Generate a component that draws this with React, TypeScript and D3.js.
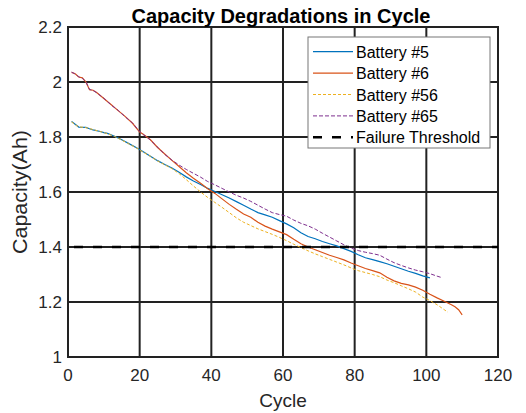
import React from "react";
import * as d3 from "d3";

const b5Cycles = [1,2,3,5,6,7,9,10,11,13,15,17,19,21,23,25,27,29,31,33,35,37,39,41,43,45,47,49,51,53,55,57,59,61,63,65,67,69,71,73,75,77,79,81,83,85,87,89,91,93,95,97,99,101];
const b5Values = [1.856,1.846,1.836,1.835,1.83,1.826,1.82,1.816,1.813,1.803,1.79,1.776,1.762,1.746,1.73,1.714,1.7,1.687,1.672,1.655,1.64,1.627,1.613,1.602,1.59,1.578,1.565,1.552,1.538,1.525,1.517,1.508,1.496,1.484,1.47,1.452,1.438,1.43,1.42,1.412,1.404,1.394,1.384,1.372,1.361,1.354,1.347,1.339,1.33,1.321,1.312,1.304,1.295,1.288];

const b6Cycles = [1,2,3,4,5,6,7,8,10,12,14,16,18,20,21,23,25,27,29,31,33,35,37,39,41,43,45,47,49,51,53,55,57,59,61,63,65,67,69,71,73,75,77,79,81,83,85,87,89,91,93,95,97,99,101,103,105,107,108,109,110];
const b6Values = [2.035,2.03,2.018,2.015,2.0,1.972,1.97,1.962,1.94,1.918,1.896,1.874,1.85,1.818,1.81,1.79,1.762,1.738,1.715,1.693,1.67,1.65,1.632,1.612,1.595,1.575,1.555,1.537,1.52,1.508,1.49,1.476,1.465,1.455,1.445,1.428,1.412,1.4,1.39,1.38,1.37,1.362,1.353,1.342,1.332,1.322,1.314,1.306,1.29,1.277,1.268,1.262,1.254,1.243,1.228,1.215,1.203,1.19,1.183,1.172,1.153];

const b56Cycles = [1,2,3,5,7,9,11,13,15,17,19,21,23,25,27,29,31,33,35,37,39,41,43,45,47,49,51,53,55,57,59,61,63,65,67,69,71,73,75,77,79,81,83,85,87,89,91,93,95,97,99,101,103,105,106];
const b56Values = [1.855,1.845,1.837,1.834,1.827,1.82,1.812,1.802,1.789,1.775,1.761,1.745,1.73,1.713,1.699,1.685,1.667,1.645,1.622,1.6,1.58,1.562,1.544,1.525,1.506,1.49,1.478,1.466,1.456,1.446,1.435,1.423,1.41,1.398,1.386,1.375,1.365,1.355,1.345,1.335,1.324,1.314,1.307,1.3,1.292,1.28,1.27,1.259,1.248,1.236,1.218,1.205,1.19,1.172,1.163];

const b65Cycles = [1,2,3,4,5,6,7,8,10,12,14,16,18,20,21,23,25,27,29,31,33,35,37,39,41,43,45,47,49,51,53,55,57,59,61,63,65,67,69,71,73,75,77,79,81,83,85,87,89,91,93,95,97,99,101,103,104];
const b65Values = [2.036,2.029,2.019,2.014,2.001,1.973,1.969,1.961,1.941,1.917,1.897,1.873,1.851,1.82,1.809,1.789,1.763,1.737,1.716,1.698,1.682,1.668,1.654,1.638,1.626,1.613,1.6,1.588,1.578,1.566,1.552,1.538,1.525,1.518,1.512,1.498,1.486,1.477,1.465,1.45,1.436,1.422,1.408,1.396,1.387,1.381,1.376,1.37,1.356,1.343,1.333,1.324,1.316,1.31,1.303,1.294,1.29];

const thresholdValue = 1.4;
const xTicks = [0, 20, 40, 60, 80, 100, 120];
const yTicks = [1, 1.2, 1.4, 1.6, 1.8, 2, 2.2];
const yTickLabels = ["1", "1.2", "1.4", "1.6", "1.8", "2", "2.2"];
const seriesNames = ["Battery #5", "Battery #6", "Battery #56", "Battery #65", "Failure Threshold"];

const FONT = "'Liberation Sans', Arial, Helvetica, sans-serif";

export default function App() {
  const W = 526, H = 413;
  const left = 68, right = 498, top = 27, bottom = 357;
  const x = d3.scaleLinear().domain([0, 120]).range([left, right]);
  const y = d3.scaleLinear().domain([1, 2.2]).range([bottom, top]);
  const line = d3.line<[number, number]>().x(d => x(d[0])).y(d => y(d[1]));
  const zip = (c: number[], v: number[]) => c.map((ci, i) => [ci, v[i]] as [number, number]);

  const series = [
    { name: seriesNames[0], data: zip(b5Cycles, b5Values), color: "#0072BD", dash: undefined as string | undefined, width: 1.2 },
    { name: seriesNames[1], data: zip(b6Cycles, b6Values), color: "#D95319", dash: undefined, width: 1.2 },
    { name: seriesNames[2], data: zip(b56Cycles, b56Values), color: "#EDB120", dash: "3,2", width: 1 },
    { name: seriesNames[3], data: zip(b65Cycles, b65Values), color: "#7E2F8E", dash: "4,2", width: 1 },
  ];

  const legX = 308, legY = 37, legW = 182, legH = 111;
  const rowY = (i: number) => 51.7 + i * 21.4;

  return (
    <svg width={W} height={H} style={{ position: "absolute", left: 0, top: 0, background: "#fff" }} fontFamily={FONT}>
      <rect x={0} y={0} width={W} height={H} fill="#fff" />
      {xTicks.map(t => (
        <line key={"gx" + t} x1={x(t)} x2={x(t)} y1={top} y2={bottom} stroke="#222" strokeWidth={2} />
      ))}
      {yTicks.map(t => (
        <line key={"gy" + t} x1={left} x2={right} y1={y(t)} y2={y(t)} stroke="#222" strokeWidth={2} />
      ))}
      <rect x={left} y={top} width={right - left} height={bottom - top} fill="none" stroke="#222" strokeWidth={2} />
      {series.map(s => (
        <path key={s.name} d={line(s.data) || ""} fill="none" stroke={s.color} strokeWidth={s.width} strokeDasharray={s.dash} />
      ))}
      <line x1={x(0)} x2={x(120)} y1={y(thresholdValue)} y2={y(thresholdValue)} stroke="#000" strokeWidth={2.6} strokeDasharray="9,10" strokeDashoffset={-6} />
      {xTicks.map(t => (
        <text key={"xl" + t} x={x(t)} y={381} textAnchor="middle" fontSize={17} fill="#262626">{t}</text>
      ))}
      {yTicks.map((t, i) => (
        <text key={"yl" + t} x={62} y={y(t) + 6} textAnchor="end" fontSize={17} fill="#262626">{yTickLabels[i]}</text>
      ))}
      <text x={(left + right) / 2} y={407} textAnchor="middle" fontSize={19} fill="#262626">Cycle</text>
      <text transform={`translate(27, ${(top + bottom) / 2}) scale(1, 1.1) rotate(-90)`} textAnchor="middle" fontSize={19.5} fill="#262626">Capacity(Ah)</text>
      <text x={281} y={23} textAnchor="middle" fontSize={20} fontWeight="bold" fill="#000">Capacity Degradations in Cycle</text>
      <rect x={legX} y={legY} width={legW} height={legH} fill="#fff" stroke="#777" strokeWidth={1} />
      {series.map((s, i) => (
        <g key={"lg" + s.name}>
          <line x1={313} x2={353} y1={rowY(i)} y2={rowY(i)} stroke={s.color} strokeWidth={s.width} strokeDasharray={s.dash} />
          <text x={356} y={rowY(i) + 6} fontSize={16} fill="#000">{s.name}</text>
        </g>
      ))}
      <line x1={313} x2={353} y1={rowY(4)} y2={rowY(4)} stroke="#000" strokeWidth={2.6} strokeDasharray="9,10" />
      <text x={356} y={rowY(4) + 6} fontSize={16} fill="#000">{seriesNames[4]}</text>
    </svg>
  );
}
